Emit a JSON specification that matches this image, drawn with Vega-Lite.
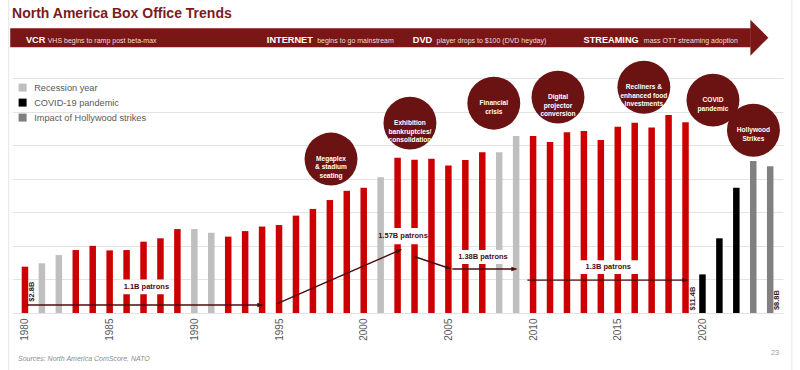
{
  "$schema": "https://vega.github.io/schema/vega-lite/v6.json",
  "width": 771,
  "height": 235,
  "autosize": "none",
  "padding": {"left": 12, "top": 78, "right": 17, "bottom": 57},
  "background": "white",
  "config": {
    "font": "Liberation Sans",
    "view": {"stroke": null},
    "axisX": {"labelAngle": -90, "grid": false, "ticks": false, "domain": false, "format": "d", "labelFontSize": 10, "labelColor": "#595959", "labelPadding": 5, "tickCount": 9, "title": null},
    "axisY": {"labels": false, "ticks": false, "domain": false, "grid": true, "gridColor": "#e3e3e3", "gridWidth": 1, "tickCount": 7, "title": null}
  },
  "datasets": {
    "bars": [
      {"year": 1980, "value": 2.76, "type": "Box office"},
      {"year": 1981, "value": 2.96, "type": "Recession year"},
      {"year": 1982, "value": 3.45, "type": "Recession year"},
      {"year": 1983, "value": 3.75, "type": "Box office"},
      {"year": 1984, "value": 4.0, "type": "Box office"},
      {"year": 1985, "value": 3.73, "type": "Box office"},
      {"year": 1986, "value": 3.75, "type": "Box office"},
      {"year": 1987, "value": 4.25, "type": "Box office"},
      {"year": 1988, "value": 4.45, "type": "Box office"},
      {"year": 1989, "value": 5.0, "type": "Box office"},
      {"year": 1990, "value": 5.0, "type": "Recession year"},
      {"year": 1991, "value": 4.78, "type": "Recession year"},
      {"year": 1992, "value": 4.55, "type": "Box office"},
      {"year": 1993, "value": 4.88, "type": "Box office"},
      {"year": 1994, "value": 5.15, "type": "Box office"},
      {"year": 1995, "value": 5.24, "type": "Box office"},
      {"year": 1996, "value": 5.8, "type": "Box office"},
      {"year": 1997, "value": 6.2, "type": "Box office"},
      {"year": 1998, "value": 6.73, "type": "Box office"},
      {"year": 1999, "value": 7.28, "type": "Box office"},
      {"year": 2000, "value": 7.46, "type": "Box office"},
      {"year": 2001, "value": 8.08, "type": "Recession year"},
      {"year": 2002, "value": 9.25, "type": "Box office"},
      {"year": 2003, "value": 9.13, "type": "Box office"},
      {"year": 2004, "value": 9.19, "type": "Box office"},
      {"year": 2005, "value": 8.79, "type": "Box office"},
      {"year": 2006, "value": 9.11, "type": "Box office"},
      {"year": 2007, "value": 9.58, "type": "Box office"},
      {"year": 2008, "value": 9.58, "type": "Recession year"},
      {"year": 2009, "value": 10.54, "type": "Recession year"},
      {"year": 2010, "value": 10.54, "type": "Box office"},
      {"year": 2011, "value": 10.18, "type": "Box office"},
      {"year": 2012, "value": 10.77, "type": "Box office"},
      {"year": 2013, "value": 10.85, "type": "Box office"},
      {"year": 2014, "value": 10.3, "type": "Box office"},
      {"year": 2015, "value": 11.09, "type": "Box office"},
      {"year": 2016, "value": 11.33, "type": "Box office"},
      {"year": 2017, "value": 11.05, "type": "Box office"},
      {"year": 2018, "value": 11.8, "type": "Box office"},
      {"year": 2019, "value": 11.37, "type": "Box office"},
      {"year": 2020, "value": 2.3, "type": "COVID-19 pandemic"},
      {"year": 2021, "value": 4.45, "type": "COVID-19 pandemic"},
      {"year": 2022, "value": 7.46, "type": "COVID-19 pandemic"},
      {"year": 2023, "value": 9.05, "type": "Impact of Hollywood strikes"},
      {"year": 2024, "value": 8.75, "type": "Impact of Hollywood strikes"}
    ],
    "boxes": [
      {"x": 1985.65, "x2": 1988.6, "y": 1.12, "y2": 2.0},
      {"x": 2001.45, "x2": 2003.6, "y": 4.1, "y2": 5.06},
      {"x": 2005.5, "x2": 2008.5, "y": 2.92, "y2": 3.75},
      {"x": 2012.7, "x2": 2016.3, "y": 2.32, "y2": 3.15}
    ],
    "patrons": [
      {"x": 1987.17, "y": 1.55, "text": "1.1B patrons"},
      {"x": 2002.32, "y": 4.58, "text": "1.57B patrons"},
      {"x": 2007.04, "y": 3.33, "text": "1.38B patrons"},
      {"x": 2014.44, "y": 2.74, "text": "1.3B patrons"}
    ],
    "arrows": [
      {"id": "a1", "x": 1980.12, "x2": 1993.9, "y": 0.48, "y2": 0.48},
      {"id": "a2", "x": 1994.86, "x2": 2002.1, "y": 0.54, "y2": 3.73},
      {"id": "a3", "x": 2003.02, "x2": 2005.0, "y": 3.35, "y2": 2.68},
      {"id": "a4", "x": 2005.23, "x2": 2008.9, "y": 2.62, "y2": 2.62},
      {"id": "a5", "x": 2009.66, "x2": 2019.0, "y": 1.96, "y2": 1.96}
    ],
    "circles": [
      {"x": 1998.07, "y": 9.17, "text": "Megaplex\n& stadium\nseating"},
      {"x": 2002.73, "y": 11.31, "text": "Exhibition\nbankruptcies/\nconsolidation"},
      {"x": 2007.68, "y": 12.5, "text": "Financial\ncrisis"},
      {"x": 2011.47, "y": 12.86, "text": "Digital\nprojector\nconversion"},
      {"x": 2016.54, "y": 13.45, "text": "Recliners &\nenhanced food\ninvestments"},
      {"x": 2020.62, "y": 12.68, "text": "COVID\npandemic"},
      {"x": 2023.01, "y": 10.89, "text": "Hollywood\nStrikes"}
    ],
    "valueLabels": [
      {"x": 1980.39, "y": 1.27, "text": "$2.8B"},
      {"x": 2019.45, "y": 0.86, "text": "$11.4B"},
      {"x": 2024.4, "y": 0.77, "text": "$8.8B"}
    ],
    "band": [{"x": 1979.13, "x2": 2022.85, "y": 15.83, "y2": 16.96}],
    "bandHead": [{"x": 2023.36, "y": 16.4}],
    "borders": [
      {"x": 1979.04, "y": -3.4, "y2": 18.7},
      {"x": 2025.28, "y": -3.4, "y2": 18.7}
    ],
    "bannerText": [
      {"x": 1980.06, "y": 16.1, "text": "VCR", "kind": "key"},
      {"x": 1981.34, "y": 16.1, "text": "VHS begins to ramp post beta-max", "kind": "desc"},
      {"x": 1994.28, "y": 16.1, "text": "INTERNET", "kind": "key"},
      {"x": 1997.25, "y": 16.1, "text": "begins to go mainstream", "kind": "desc"},
      {"x": 2002.9, "y": 16.1, "text": "DVD", "kind": "key"},
      {"x": 2004.3, "y": 16.1, "text": "player drops to $100 (DVD heyday)", "kind": "desc"},
      {"x": 2012.98, "y": 16.1, "text": "STREAMING", "kind": "key"},
      {"x": 2016.54, "y": 16.1, "text": "mass OTT streaming adoption", "kind": "desc"}
    ],
    "titleText": [{"x": 1979.24, "y": 17.6, "text": "North America Box Office Trends"}],
    "footer": [
      {"x": 1979.59, "y": -2.86, "text": "Sources:  North America ComScore, NATO", "kind": "source"},
      {"x": 2024.29, "y": -2.5, "text": "23", "kind": "page"}
    ]
  },
  "layer": [
    {
      "data": {"name": "borders"},
      "mark": {"type": "rule", "color": "#e6e6e6", "strokeWidth": 1},
      "encoding": {
        "x": {"field": "x", "type": "quantitative", "title": null},
        "y": {"field": "y", "type": "quantitative", "title": null},
        "y2": {"field": "y2"}
      }
    },
    {
      "data": {"name": "bars"},
      "mark": {"type": "bar", "size": 6.5},
      "encoding": {
        "x": {"field": "year", "type": "quantitative", "scale": {"domain": [1979.53, 2024.46], "nice": false, "zero": false}, "title": null},
        "y": {"field": "value", "type": "quantitative", "scale": {"domain": [0, 14], "nice": false}, "title": null},
        "color": {
          "field": "type", "type": "nominal",
          "scale": {"domain": ["Box office", "Recession year", "COVID-19 pandemic", "Impact of Hollywood strikes"], "range": ["#cc0000", "#bfbfbf", "#000000", "#808080"]},
          "legend": {"values": ["Recession year", "COVID-19 pandemic", "Impact of Hollywood strikes"], "orient": "none", "legendX": 6, "legendY": 5, "title": null, "symbolType": "square", "symbolSize": 64, "symbolStrokeWidth": 0, "labelFontSize": 9.2, "labelColor": "#595959", "rowPadding": 5, "labelOffset": 7, "padding": 0}
        }
      }
    },
    {
      "data": {"name": "boxes"},
      "mark": {"type": "rect", "color": "white"},
      "encoding": {
        "x": {"field": "x", "type": "quantitative", "title": null},
        "x2": {"field": "x2"},
        "y": {"field": "y", "type": "quantitative", "title": null},
        "y2": {"field": "y2"}
      }
    },
    {
      "data": {"name": "patrons"},
      "mark": {"type": "text", "fontSize": 7.5, "fontWeight": "bold", "color": "#4a0d0d", "align": "center", "baseline": "middle"},
      "encoding": {
        "x": {"field": "x", "type": "quantitative", "title": null},
        "y": {"field": "y", "type": "quantitative", "title": null},
        "text": {"field": "text"}
      }
    },
    {
      "data": {"name": "arrows"},
      "mark": {"type": "rule", "color": "#4a0d0d", "strokeWidth": 1.4},
      "encoding": {
        "x": {"field": "x", "type": "quantitative", "title": null},
        "x2": {"field": "x2"},
        "y": {"field": "y", "type": "quantitative", "title": null},
        "y2": {"field": "y2"}
      }
    },
    {
      "data": {"name": "arrows"},
      "transform": [{"filter": {"field": "id", "oneOf": ["a1", "a4", "a5"]}}],
      "mark": {"type": "point", "shape": "M-1,-0.7L1,0L-1,0.7Z", "size": 40, "filled": true, "opacity": 1, "color": "#4a0d0d", "angle": 0},
      "encoding": {
        "x": {"field": "x2", "type": "quantitative", "title": null},
        "y": {"field": "y2", "type": "quantitative", "title": null}
      }
    },
    {
      "data": {"name": "arrows"},
      "transform": [{"filter": {"field": "id", "equal": "a2"}}],
      "mark": {"type": "point", "shape": "M-1,-0.7L1,0L-1,0.7Z", "size": 40, "filled": true, "opacity": 1, "color": "#4a0d0d", "angle": 336.7},
      "encoding": {
        "x": {"field": "x2", "type": "quantitative", "title": null},
        "y": {"field": "y2", "type": "quantitative", "title": null}
      }
    },
    {
      "data": {"name": "arrows"},
      "transform": [{"filter": {"field": "id", "equal": "a3"}}],
      "mark": {"type": "point", "shape": "M-1,-0.7L1,0L-1,0.7Z", "size": 30, "filled": true, "opacity": 1, "color": "#4a0d0d", "angle": 18.4},
      "encoding": {
        "x": {"field": "x2", "type": "quantitative", "title": null},
        "y": {"field": "y2", "type": "quantitative", "title": null}
      }
    },
    {
      "data": {"name": "circles"},
      "mark": {"type": "point", "shape": "circle", "size": 2800, "filled": true, "opacity": 1, "color": "#6b1212"},
      "encoding": {
        "x": {"field": "x", "type": "quantitative", "title": null},
        "y": {"field": "y", "type": "quantitative", "title": null}
      }
    },
    {
      "data": {"name": "circles"},
      "mark": {"type": "text", "fontSize": 6.6, "fontWeight": "bold", "color": "white", "align": "center", "baseline": "middle", "lineBreak": "\n", "lineHeight": 8.4},
      "encoding": {
        "x": {"field": "x", "type": "quantitative", "title": null},
        "y": {"field": "y", "type": "quantitative", "title": null},
        "text": {"field": "text"}
      }
    },
    {
      "data": {"name": "valueLabels"},
      "mark": {"type": "text", "fontSize": 7.5, "fontWeight": "bold", "color": "#2b1a1a", "align": "center", "baseline": "middle", "angle": 270},
      "encoding": {
        "x": {"field": "x", "type": "quantitative", "title": null},
        "y": {"field": "y", "type": "quantitative", "title": null},
        "text": {"field": "text"}
      }
    },
    {
      "data": {"name": "band"},
      "mark": {"type": "rect", "color": "#7b1616"},
      "encoding": {
        "x": {"field": "x", "type": "quantitative", "title": null},
        "x2": {"field": "x2"},
        "y": {"field": "y", "type": "quantitative", "title": null},
        "y2": {"field": "y2"}
      }
    },
    {
      "data": {"name": "bandHead"},
      "mark": {"type": "point", "shape": "M-0.5,-1L0.5,0L-0.5,1Z", "size": 1296, "filled": true, "opacity": 1, "color": "#7b1616"},
      "encoding": {
        "x": {"field": "x", "type": "quantitative", "title": null},
        "y": {"field": "y", "type": "quantitative", "title": null}
      }
    },
    {
      "data": {"name": "bannerText"},
      "transform": [{"filter": {"field": "kind", "equal": "key"}}],
      "mark": {"type": "text", "fontSize": 9.2, "fontWeight": "bold", "color": "white", "align": "left", "baseline": "alphabetic"},
      "encoding": {
        "x": {"field": "x", "type": "quantitative", "title": null},
        "y": {"field": "y", "type": "quantitative", "title": null},
        "text": {"field": "text"}
      }
    },
    {
      "data": {"name": "bannerText"},
      "transform": [{"filter": {"field": "kind", "equal": "desc"}}],
      "mark": {"type": "text", "fontSize": 7, "color": "#ecdede", "align": "left", "baseline": "alphabetic"},
      "encoding": {
        "x": {"field": "x", "type": "quantitative", "title": null},
        "y": {"field": "y", "type": "quantitative", "title": null},
        "text": {"field": "text"}
      }
    },
    {
      "data": {"name": "titleText"},
      "mark": {"type": "text", "fontSize": 14, "fontWeight": "bold", "color": "#7a1c1c", "align": "left", "baseline": "alphabetic"},
      "encoding": {
        "x": {"field": "x", "type": "quantitative", "title": null},
        "y": {"field": "y", "type": "quantitative", "title": null},
        "text": {"field": "text"}
      }
    },
    {
      "data": {"name": "footer"},
      "transform": [{"filter": {"field": "kind", "equal": "source"}}],
      "mark": {"type": "text", "fontSize": 7, "fontStyle": "italic", "color": "#8c8c8c", "align": "left", "baseline": "alphabetic"},
      "encoding": {
        "x": {"field": "x", "type": "quantitative", "title": null},
        "y": {"field": "y", "type": "quantitative", "title": null},
        "text": {"field": "text"}
      }
    },
    {
      "data": {"name": "footer"},
      "transform": [{"filter": {"field": "kind", "equal": "page"}}],
      "mark": {"type": "text", "fontSize": 7.5, "color": "#a0a0a0", "align": "center", "baseline": "alphabetic"},
      "encoding": {
        "x": {"field": "x", "type": "quantitative", "title": null},
        "y": {"field": "y", "type": "quantitative", "title": null},
        "text": {"field": "text"}
      }
    }
  ]
}
